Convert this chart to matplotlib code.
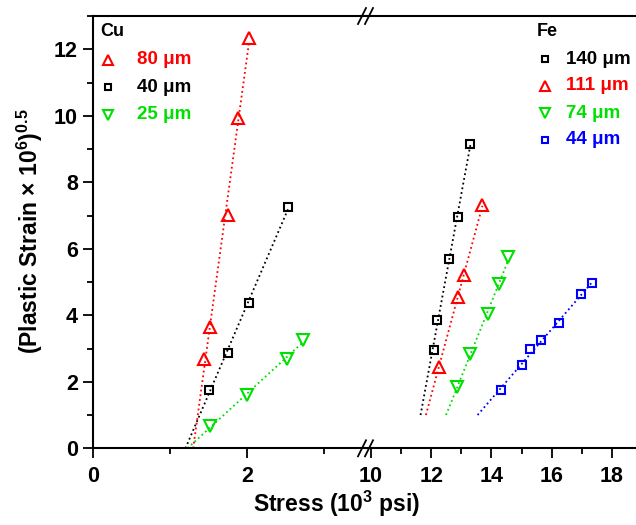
import matplotlib
matplotlib.use("Agg")
import matplotlib.pyplot as plt
from matplotlib.ticker import MultipleLocator
import numpy as np

plt.rcParams["font.family"] = ["Liberation Sans", "DejaVu Sans"]
plt.rcParams["font.weight"] = "bold"
plt.rcParams["mathtext.fontset"] = "custom"
plt.rcParams["mathtext.rm"] = "Liberation Sans:bold"
plt.rcParams["mathtext.default"] = "rm"

# Cu series (left segment)
cu_labels = ["80 μm", "40 μm", "25 μm"]
cu_colors = ["red", "black", "#00e000"]
cu_markers = ["^", "s", "v"]
cu_x = [
    [1.44, 1.52, 1.75, 1.88, 2.02],
    [1.50, 1.75, 2.02, 2.53],
    [1.52, 2.00, 2.52, 2.72],
]
cu_y = [
    [2.68, 3.66, 7.01, 9.92, 12.35],
    [1.75, 2.87, 4.36, 7.25],
    [0.67, 1.60, 2.68, 3.26],
]

# Fe series (right segment)
fe_labels = ["140 μm", "111 μm", "74 μm", "44 μm"]
fe_colors = ["black", "red", "#00e000", "blue"]
fe_markers = ["s", "^", "v", "s"]
fe_x = [
    [12.09, 12.18, 12.58, 12.88, 13.30],
    [12.25, 12.89, 13.08, 13.70],
    [12.85, 13.30, 13.88, 14.26, 14.56],
    [14.31, 15.02, 15.28, 15.66, 16.25, 16.98, 17.34],
]
fe_y = [
    [2.95, 3.86, 5.69, 6.95, 9.14],
    [2.45, 4.56, 5.20, 7.31],
    [1.85, 2.83, 4.03, 4.93, 5.76],
    [1.75, 2.51, 2.98, 3.26, 3.76, 4.65, 4.96],
]

fig = plt.figure(figsize=(6.36, 5.25), dpi=100)
axl = fig.add_axes([0.1467, 0.1461, 0.4288, 0.8234])
axr = fig.add_axes([0.5755, 0.1461, 0.4245, 0.8234])


def draw(ax, xs, ys, colors, markers, y_start):
    for x, y, c, m in zip(xs, ys, colors, markers):
        x = np.array(x)
        y = np.array(y)
        a, b = np.polyfit(x, y, 1)
        x0 = (y_start - b) / a
        xx = np.array([x0, x.max()])
        ax.plot(xx, a * xx + b, ls=":", color=c, lw=1.3)
        ax.plot(x, y, ls="none", marker=m, ms=6 if m == "s" else 8,
                mfc="none", mec=c, mew=1.5)


draw(axl, cu_x, cu_y, cu_colors, cu_markers, 0.0)
draw(axr, fe_x, fe_y, fe_colors, fe_markers, 1.0)

for ax in (axl, axr):
    ax.set_ylim(0, 13.0)
    for s in ax.spines.values():
        s.set_linewidth(1.5)
    ax.tick_params(which="major", length=7, width=1.3, labelsize=15.5, pad=6)
    ax.tick_params(which="minor", length=4.5, width=1.3)

axl.set_xlim(0, 3.545)
axl.xaxis.set_major_locator(MultipleLocator(2))
axl.xaxis.set_minor_locator(MultipleLocator(1))
axl.yaxis.set_major_locator(MultipleLocator(2))
axl.yaxis.set_minor_locator(MultipleLocator(1))
axl.spines["right"].set_visible(False)
axl.tick_params(axis="y", pad=4)

axr.set_xlim(9.834, 18.8)
axr.xaxis.set_major_locator(MultipleLocator(2))
axr.xaxis.set_minor_locator(MultipleLocator(1))
axr.spines["left"].set_visible(False)
axr.spines["right"].set_visible(False)
axr.tick_params(axis="y", which="both", left=False, labelleft=False)

for ax in (axl, axr):
    for t in ax.get_xticklabels() + ax.get_yticklabels():
        t.set_fontweight("bold")

fig.text(30 / 636, 1 - 231 / 525, r"(Plastic Strain × 10$^{6}$)$^{0.5}$",
         rotation=90, ha="center", va="center", fontsize=16.5,
         fontweight="bold")
fig.text(337 / 636, 1 - 504 / 525, r"Stress (10$^{3}$ psi)", ha="center",
         va="center", fontsize=16.5, fontweight="bold")

# break marks
bx = 366 / 636
for yb in (0.1461, 0.9695):
    for dx in (-4, 3):
        x0 = bx + (dx - 4) / 636
        x1 = bx + (dx + 4) / 636
        fig.add_artist(plt.Line2D([x0, x1], [yb - 8 / 525, yb + 8 / 525],
                                  transform=fig.transFigure, color="black",
                                  lw=1.3))


# custom legends
def legend_block(title, labels, colors, markers, xm, xt, ytop, dy):
    fig.text(xm - 8 / 636, ytop, title, fontsize=13, fontweight="bold",
             va="center", ha="left")
    for i, (lab, c, m) in enumerate(zip(labels, colors, markers)):
        yy = ytop - (i + 1) * dy
        fig.add_artist(plt.Line2D([xm], [yy], transform=fig.transFigure,
                                  ls="none", marker=m, ms=5 if m == "s" else 7.5,
                                  mfc="none", mec=c, mew=1.5))
        fig.text(xt, yy, lab, color=c, fontsize=13.5, fontweight="bold",
                 va="center", ha="left")


legend_block("Cu", cu_labels, cu_colors, cu_markers,
             108 / 636, 137 / 636, 1 - 32 / 525, 27.5 / 525)
legend_block("Fe", fe_labels, fe_colors, fe_markers,
             545 / 636, 566 / 636, 1 - 32 / 525, 27 / 525)

fig.savefig("out.png", dpi=100)
